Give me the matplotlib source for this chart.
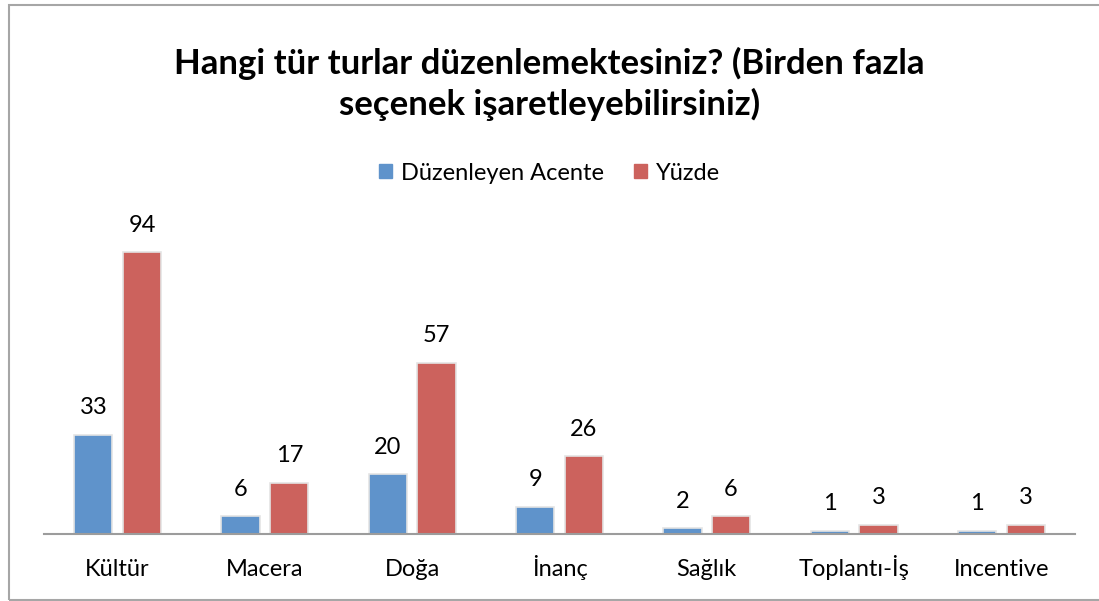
import matplotlib
matplotlib.use('Agg')
import matplotlib.pyplot as plt
import matplotlib.patches as mpatches
import numpy as np

categories = ['Kültür', 'Macera', 'Doğa', 'İnanç', 'Sağlık', 'Toplantı-İş', 'Incentive']
acente = [33, 6, 20, 9, 2, 1, 1]
yuzde = [94, 17, 57, 26, 6, 3, 3]
series_names = ['Düzenleyen Acente', 'Yüzde']

BLUE = '#5F93CB'
RED = '#CC625D'

plt.rcParams['font.family'] = ['Lato', 'DejaVu Sans']

W, H = 1099, 601
fig = plt.figure(figsize=(W / 100, H / 100), dpi=100)

# chart border
fig.patches.append(mpatches.Rectangle((8.5 / W, 1 - 600 / H), 1.2, (600 - 5) / H,
                                      transform=fig.transFigure, fill=False,
                                      edgecolor='#A6A6A6', linewidth=1.5))

ax = fig.add_axes([44 / W, 1 - 534 / H, (1075 - 44) / W, (534 - 210) / H])
x = np.arange(len(categories))
w = 0.26
off = 0.165
b1 = ax.bar(x - off, acente, w, color=BLUE, edgecolor='#E4E4E4', linewidth=1.2, zorder=2)
b2 = ax.bar(x + off, yuzde, w, color=RED, edgecolor='#E4E4E4', linewidth=1.2, zorder=2)

for bars, vals in ((b1, acente), (b2, yuzde)):
    for r, v in zip(bars, vals):
        ax.text(r.get_x() + r.get_width() / 2, v + 9, str(v), ha='center', va='center',
                fontsize=17, color='black')

ax.set_xlim(-0.5, len(categories) - 0.5)
ax.set_ylim(0, 108)
ax.set_xticks(x)
ax.set_xticklabels(categories, fontsize=17, va='baseline')
ax.tick_params(axis='x', length=0, pad=30)
ax.set_yticks([])
for s in ['top', 'right', 'left']:
    ax.spines[s].set_visible(False)
ax.spines['bottom'].set_color('#9C9C9C')
ax.spines['bottom'].set_linewidth(1.5)

fig.text(0.5, 1 - 63 / H, 'Hangi tür turlar düzenlemektesiniz? (Birden fazla',
         ha='center', va='center', fontsize=25, fontweight='bold')
fig.text(0.5, 1 - 104 / H, 'seçenek işaretleyebilirsiniz)',
         ha='center', va='center', fontsize=25, fontweight='bold')

handles = [mpatches.Patch(color=BLUE, label=series_names[0]),
           mpatches.Patch(color=RED, label=series_names[1])]
fig.legend(handles=handles, loc='center', bbox_to_anchor=(0.5, 1 - 173 / H), ncol=2,
           frameon=False, fontsize=17, handlelength=0.55, handleheight=0.55,
           handletextpad=0.35, columnspacing=1.3)

plt.savefig('out.png', dpi=100)
